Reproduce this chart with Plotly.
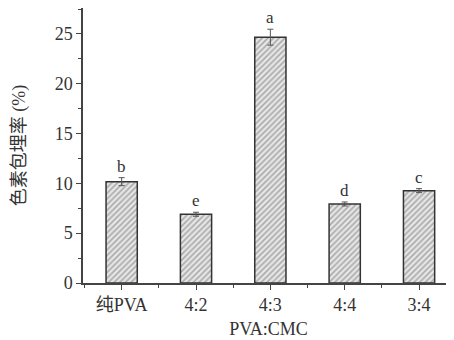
import plotly.graph_objects as go

categories = ["纯PVA", "4:2", "4:3", "4:4", "3:4"]
values = [10.17, 6.9, 24.67, 7.93, 9.27]
errors = [0.4, 0.2, 0.8, 0.2, 0.2]
letters = ["b", "e", "a", "d", "c"]

xpos = list(range(len(categories)))
FONT = "Liberation Serif, Times New Roman, Noto Sans CJK SC, serif"

fig = go.Figure()
fig.add_trace(go.Bar(
    x=xpos, y=values, width=0.42,
    marker=dict(color="#e6e6e6",
                line=dict(color="#333333", width=1.5),
                pattern=dict(shape="/", fgcolor="#6e6e6e", bgcolor="#e6e6e6",
                             size=4, solidity=0.4)),
    error_y=dict(type="data", array=errors, visible=True,
                 color="#555555", thickness=1, width=3),
    showlegend=False,
))

for x, v, e, t in zip(xpos, values, errors, letters):
    fig.add_annotation(x=x, y=v + e, text=t, showarrow=False,
                       yanchor="bottom", yshift=0,
                       font=dict(family=FONT, size=17, color="#333333"))

fig.update_layout(
    width=454, height=340,
    margin=dict(l=75, r=8, t=0, b=65),
    paper_bgcolor="white", plot_bgcolor="white",
    font=dict(family=FONT, size=18, color="#333333"),
)
fig.update_xaxes(
    range=[-0.52, 4.47],
    tickmode="array", tickvals=xpos, ticktext=categories,
    ticks="outside", ticklen=5, tickwidth=1.2, tickcolor="#444444",
    minor=dict(dtick=0.5, tick0=0.5, ticks="outside", ticklen=3, tickcolor="#444444"),
    showline=True, linecolor="#444444", linewidth=1.5,
    showgrid=False, zeroline=False,
    title=dict(text="PVA:CMC", standoff=8, font=dict(size=18)),
    tickfont=dict(size=18),
)
fig.update_yaxes(
    range=[0, 27.6],
    tickvals=[0, 5, 10, 15, 20, 25],
    ticks="outside", ticklen=5, tickwidth=1.2, tickcolor="#444444",
    minor=dict(dtick=2.5, tick0=0, ticks="outside", ticklen=3, tickcolor="#444444"),
    showline=True, linecolor="#444444", linewidth=1.5,
    showgrid=False, zeroline=False,
    title=dict(text="色素包埋率 (%)", standoff=24, font=dict(size=18)),
    tickfont=dict(size=18),
)

fig.write_html("out.html")
